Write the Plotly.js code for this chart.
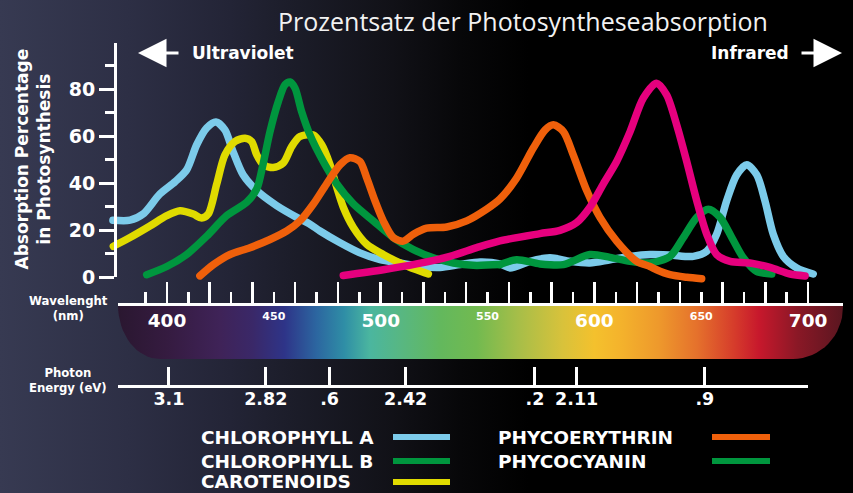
<!DOCTYPE html>
<html>
<head>
<meta charset="utf-8">
<script src="https://cdn.plot.ly/plotly-3.0.1.min.js"></script>
<style>
html,body{margin:0;padding:0;}
body{width:853px;height:493px;overflow:hidden;
background:linear-gradient(90deg,#373a52 0%,#2d2f45 15%,#232436 27%,#1b1c28 35%,#111117 46%,#070709 54%,#000 62%,#000 100%);}
#chart{width:853px;height:493px;}
.scatterlayer .js-line{stroke-linecap:round;stroke-linejoin:round;}
</style>
</head>
<body>
<div id="chart"></div>
<script>
// ---------------- data (wavelength in nm, absorption in %) ----------------
const chlAName = 'CHLOROPHYLL A';
const chlANm  = [374.7,382.7,388.8,396.7,403.7,409.2,413.9,418.6,422.9,427.1,430.9,435.6,442.0,451.3,460.7,466.9,471.6,481.0,490.3,499.7,509.0,518.4,527.8,537.1,546.5,555.8,560.5,569.9,579.2,588.6,597.9,607.3,616.7,626.0,635.4,646.3,652.6,657.2,661.9,666.6,671.3,676.0,679.8,683.7,688.4,694.7,702.4];
const chlAVal = [24.3,24.3,26.9,35.5,40.6,45.7,56.4,63.6,66.1,62.7,53.5,43.6,36.9,30.5,25.5,22.6,19.7,14.7,10.4,7.5,6.1,4.6,4.2,5.4,6.5,5.7,4.0,6.8,8.3,6.8,6.1,7.5,8.9,9.7,9.5,8.9,11.1,18.3,32.6,43.6,47.9,43.6,32.6,18.3,8.9,4.0,1.4];

const chlBName = 'CHLOROPHYLL B';
const chlBNm  = [390.5,399.9,409.2,418.6,427.9,437.3,442.0,444.9,448.2,452.1,455.2,457.6,459.9,463.0,466.9,473.1,479.4,487.2,496.5,505.9,515.3,524.6,534.0,543.3,555.8];
const chlBVal = [1.1,4.6,9.7,17.5,26.2,31.9,37.6,47.9,62.0,74.8,81.9,83.1,80.5,70.5,60.6,49.3,39.8,31.2,24.0,16.9,11.8,8.3,6.1,5.1,5.4];

const carName = 'CAROTENOIDS';
const carNm  = [374.9,382.7,392.0,399.9,406.1,412.3,416.2,419.3,423.3,427.1,431.8,436.5,439.6,442.0,445.1,449.7,454.4,458.4,462.2,468.5,472.4,476.3,479.4,482.5,487.2,493.5,501.2,509.0,516.8,522.3];
const carVal = [13.2,16.9,21.8,26.2,28.3,26.9,25.2,26.9,39.8,52.1,57.8,59.2,57.8,52.1,47.9,46.7,48.6,55.7,59.9,60.6,56.4,47.9,38.4,29.8,21.2,14.0,9.7,6.1,3.2,1.4];

const pheName = 'PHYCOERYTHRIN';
const pheNm  = [415.4,421.7,429.5,438.8,448.2,456.0,462.2,468.5,474.7,481.0,485.6,490.3,493.5,497.3,501.2,505.9,510.6,515.3,521.5,530.9,540.2,549.6,555.8,563.6,571.4,576.9,580.8,585.5,590.1,596.4,602.6,610.4,619.8,626.0,629.1,635.4,643.2,650.2];
const pheVal = [0.6,5.4,9.7,12.6,16.1,19.7,24.0,31.2,39.8,47.9,50.9,49.3,42.2,32.6,24.0,16.9,15.4,18.3,20.9,21.4,24.0,29.0,33.3,42.2,55.0,62.7,64.9,62.0,52.1,36.9,25.5,15.4,6.8,4.6,3.2,1.1,0.0,-0.6];

const pcyName = 'PHYCOCYANIN';
const pcyNm  = [555.8,563.6,574.5,585.5,597.9,607.3,616.7,626.0,635.4,641.6,647.9,653.3,658.8,664.3,669.7,675.9,683.0];
const pcyVal = [5.4,7.5,5.7,5.4,9.7,8.5,6.8,6.1,8.9,16.9,25.5,29.0,25.5,16.9,8.3,2.5,1.4];

// magenta curve drawn in the figure without a legend entry
const magNm  = [482.5,501.2,516.8,532.4,544.9,555.8,574.5,583.9,591.7,597.9,604.2,610.4,616.7,622.9,629.1,633.8,638.5,643.2,647.9,652.6,657.2,663.5,672.8,682.2,691.6,698.6];
const magVal = [0.8,3.2,5.7,8.9,12.6,15.5,18.6,20.0,23.3,29.8,39.8,49.3,62.0,76.3,82.6,77.6,64.9,49.3,32.6,18.3,9.7,6.8,6.1,4.2,1.4,0.6];

const colors = {chlA:'#7ccbea', chlB:'#00963e', car:'#e0db00', phe:'#ef600b', pcy:'#00963e', mag:'#e6007e'};

// axis ticks / labels
const wlMajorTicks = [400,420,440,460,480,500,520,540,560,580,600,620,640,660,680,700];
const wlMinorTicks = [390,410,430,450,470,490,510,530,550,570,590,610,630,650,670,690];
const wlBigLabels = [400,500,600,700];
const wlSmallLabels = [450,550,650];
const yMajorTicks = [0,20,40,60,80];
const yMinorTicks = [10,30,50,70,90];
const energyTickNm = [400.9,446.2,476.1,511.7,572.2,591.7,651.7];
const energyLabels = ['3.1','2.82','.6','2.42','.2','2.11','.9'];

// visible spectrum colour stops
const specNm = [377,400,425,440,455,470,483,495,510,528,545,565,585,600,612,630,648,666,677,695,716];
const specColors = ['#2a1730','#351b40','#3f2358','#3a2868','#2e3488','#2c66a0','#2f8ea6','#4bb69f','#58b781','#63b85d','#72ba50','#a8be48','#d8c23b','#f4c12d','#f4b32c','#ee992c','#e5712c','#d53a2b','#c7182c','#8a1826','#5a1620'];

// ---------------- geometry helpers ----------------
const W = 853, H = 493;
const nmAt = px => 400 + (px - 167) / 2.137;     // wavelength scale
const valAt = py => (277.3 - py) / 2.35;          // absorption scale
const fx = px => px / W;
const fy = py => 1 - py / H;

// spectrum bar outline (rounded bottom corners)
const barL = 118, barR = 843, barT = 305, barB = 359;
const bx = [], by = [];
bx.push(nmAt(barL)); by.push(barT);
bx.push(nmAt(barR)); by.push(barT);
{ const rx = 50, ry = 52;
  for (let i = 0; i <= 16; i++) { const a = (Math.PI/2) * i / 16;
    bx.push(nmAt(barR - rx + rx*Math.cos(a))); by.push(barB - ry + ry*Math.sin(a)); } }
{ const rx = 42, ry = 54;
  for (let i = 0; i <= 16; i++) { const a = Math.PI/2 + (Math.PI/2) * i / 16;
    bx.push(nmAt(barL + rx + rx*Math.cos(a))); by.push(barB - ry + ry*Math.sin(a)); } }
bx.push(nmAt(barL)); by.push(barT);
const s0 = nmAt(barL), s1 = nmAt(barR);
const specScale = specNm.map((n,i) => [Math.min(1, Math.max(0, (n - s0)/(s1 - s0))), specColors[i]]);
specScale[0][0] = 0; specScale[specScale.length-1][0] = 1;

const curve = (x, y, c) => ({x, y, type:'scatter', mode:'lines', xaxis:'x', yaxis:'y',
  line:{color:c, width:7.5, shape:'spline', smoothing:0.8}, hoverinfo:'skip', showlegend:false});

const dummy = xa => ({x:[], y:[], type:'scatter', mode:'lines', xaxis:xa, yaxis:'y2', showlegend:false, hoverinfo:'skip'});

const traces = [
  {x:bx, y:by, type:'scatter', mode:'lines', xaxis:'x', yaxis:'y3', fill:'toself',
   line:{width:0, color:'rgba(0,0,0,0)'}, fillgradient:{type:'horizontal', colorscale:specScale},
   hoverinfo:'skip', showlegend:false},
  curve(chlANm, chlAVal, colors.chlA),
  curve(carNm, carVal, colors.car),
  curve(chlBNm, chlBVal, colors.chlB),
  curve(pcyNm, pcyVal, colors.pcy),
  curve(pheNm, pheVal, colors.phe),
  curve(magNm, magVal, colors.mag),
  dummy('x2'), dummy('x3'), dummy('x4'), dummy('x5'), dummy('x6')
];

const F = 'Open Sans, Lato, sans-serif';
const B = 'DejaVu Sans, Open Sans, sans-serif';
const white = '#ffffff';
const hidden = {visible:false, fixedrange:true};
const labelAxis = (pos, vals, size, dom, rng, text) => ({domain:dom, range:rng, anchor:'free', position:fy(pos),
    showline:false, zeroline:false, showgrid:false, ticks:'', tickmode:'array', tickvals:vals, ticktext:text,
    tickfont:{family:B, size:size, color:white, weight:700}, fixedrange:true});
const wlDom = [fx(118), fx(843)], wlRng = [nmAt(118), nmAt(843)];
const enDom = [fx(118), fx(808)], enRng = [nmAt(118), nmAt(808)];

const layout = {
  width:W, height:H, margin:{l:0,r:0,t:0,b:0},
  paper_bgcolor:'rgba(0,0,0,0)', plot_bgcolor:'rgba(0,0,0,0)',
  showlegend:false,
  xaxis:Object.assign({domain:[fx(100),1], range:[nmAt(100), nmAt(853)]}, hidden),
  yaxis:Object.assign({domain:[fy(300), fy(30)], range:[valAt(300), valAt(30)], anchor:'x'}, hidden),
  yaxis3:Object.assign({domain:[0,1], range:[H,0], anchor:'x'}, hidden),
  // wavelength tick axis
  xaxis2:{domain:wlDom, range:wlRng, anchor:'free', position:fy(304),
    showline:true, linecolor:white, linewidth:3, zeroline:false, showgrid:false,
    ticks:'inside', tickmode:'array', tickvals:wlMajorTicks, ticklen:21, tickwidth:2.5, tickcolor:white,
    showticklabels:false, fixedrange:true,
    minor:{tickmode:'array', tickvals:wlMinorTicks, ticks:'inside', ticklen:11, tickwidth:2.5, tickcolor:white, showgrid:false}},
  xaxis3:labelAxis(307.5, wlBigLabels, 18.5, wlDom, wlRng),
  xaxis4:labelAxis(307.5, wlSmallLabels, 11, wlDom, wlRng),
  // photon energy axis
  xaxis5:{domain:enDom, range:enRng, anchor:'free', position:fy(386),
    showline:true, linecolor:white, linewidth:3, zeroline:false, showgrid:false,
    ticks:'inside', tickmode:'array', tickvals:energyTickNm, ticklen:18, tickwidth:3, tickcolor:white,
    showticklabels:false, fixedrange:true},
  xaxis6:labelAxis(386.5, energyTickNm, 17.5, enDom, enRng, energyLabels),
  // absorption axis
  yaxis2:{domain:[fy(277.3), fy(277.3 - 99.7*2.35)], range:[0, 99.7], anchor:'free', position:fx(115),
    showline:true, linecolor:white, linewidth:3, zeroline:false, showgrid:false,
    ticks:'outside', tickmode:'array', tickvals:yMajorTicks, ticklen:15, tickwidth:3, tickcolor:white,
    tickfont:{family:B, size:19, color:white, weight:700}, fixedrange:true,
    minor:{tickmode:'array', tickvals:yMinorTicks, ticks:'outside', ticklen:9, tickwidth:3, tickcolor:white, showgrid:false}},
  annotations:[],
  shapes:[]
};

const A = layout.annotations;
A.push({xref:'paper', yref:'paper', x:fx(523), y:fy(21), text:'Prozentsatz der Photosyntheseabsorption', showarrow:false,
  xanchor:'center', yanchor:'middle', font:{family:F, size:25, color:'#f2f2f2', weight:400}});
A.push({xref:'paper', yref:'paper', x:fx(190), y:fy(53), text:'Ultraviolet', showarrow:false, xanchor:'left', yanchor:'middle',
  font:{family:B, size:17, color:white, weight:700}});
A.push({xref:'paper', yref:'paper', x:fx(791), y:fy(53), text:'Infrared', showarrow:false, xanchor:'right', yanchor:'middle',
  font:{family:B, size:17, color:white, weight:700}});
A.push({xref:'paper', yref:'paper', x:fx(138), y:fy(53), ax:42, ay:0, text:'', showarrow:true, arrowhead:2, arrowsize:1.9, arrowwidth:3, arrowcolor:white});
A.push({xref:'paper', yref:'paper', x:fx(842), y:fy(53), ax:-42, ay:0, text:'', showarrow:true, arrowhead:2, arrowsize:1.9, arrowwidth:3, arrowcolor:white});
A.push({xref:'paper', yref:'paper', x:fx(32.5), y:fy(159), text:'Absorption Percentage<br>in Photosynthesis', textangle:-90, showarrow:false,
  xanchor:'center', yanchor:'middle', align:'center', font:{family:B, size:17, color:white, weight:700}});
A.push({xref:'paper', yref:'paper', x:fx(68), y:fy(308.5), text:'Wavelenght<br>(nm)', showarrow:false, xanchor:'center', yanchor:'middle', align:'center',
  font:{family:B, size:11.7, color:white, weight:700}});
A.push({xref:'paper', yref:'paper', x:fx(68), y:fy(380), text:'Photon<br>Energy (eV)', showarrow:false, xanchor:'center', yanchor:'middle', align:'center',
  font:{family:B, size:11.7, color:white, weight:700}});

// legend (text left, swatch right)
const legendItems = [
  {name:chlAName, color:colors.chlA, tx:200, sx:[393,450], y:437},
  {name:chlBName, color:colors.chlB, tx:200, sx:[393,450], y:461},
  {name:carName,  color:colors.car,  tx:200, sx:[393,450], y:482},
  {name:pheName,  color:colors.phe,  tx:497, sx:[712,770], y:437},
  {name:pcyName,  color:colors.pcy,  tx:497, sx:[712,770], y:461}
];
legendItems.forEach(it => {
  const last = it.y > 470;
  A.push({xref:'paper', yref:'paper', x:fx(it.tx), y:last ? 0 : fy(it.y), text:it.name, showarrow:false, xanchor:'left',
    yanchor:last ? 'bottom' : 'middle', borderpad:0,
    font:{family:B, size:18.5, color:white, weight:700}});
  layout.shapes.push({type:'line', xref:'paper', yref:'paper', x0:fx(it.sx[0]), x1:fx(it.sx[1]), y0:fy(it.y), y1:fy(it.y),
    line:{color:it.color, width:6}});
});

Plotly.newPlot('chart', traces, layout, {staticPlot:true, displayModeBar:false});
</script>
</body>
</html>
